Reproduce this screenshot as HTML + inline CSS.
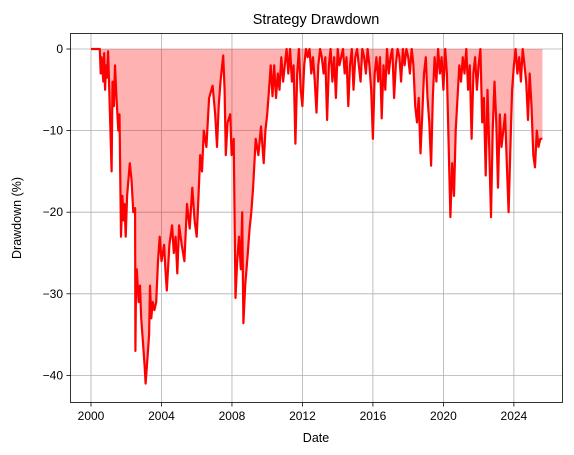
<!DOCTYPE html>
<html><head><meta charset="utf-8">
<style>
body{margin:0;background:#fff;}
svg{display:block;font-family:"Liberation Sans","DejaVu Sans",sans-serif;}
</style></head>
<body>
<svg id="chart" width="574" height="455">
<rect x="0" y="0" width="574" height="455" fill="#fff"/>
<g id="grid"></g>
<g id="series"></g>
<rect x="70.5" y="33.5" width="492" height="369" fill="none" stroke="#000" stroke-width="0.8"/>
<g id="axes"></g>
<text x="316" y="24" text-anchor="middle" font-size="14.5">Strategy Drawdown</text>
<text x="316" y="442" text-anchor="middle" font-size="12.5">Date</text>
<text x="21" y="218" text-anchor="middle" font-size="12.5" transform="rotate(-90 21 218)">Drawdown (%)</text>
</svg>
<script>
const dates=[
2000.0,2000.5,2000.55,2000.6,2000.7,2000.75,2000.8,2000.85,2000.9,2000.97,
2001.05,2001.17,2001.22,2001.3,2001.36,2001.45,2001.55,2001.62,2001.7,2001.78,
2001.85,2001.9,2001.97,2002.05,2002.2,2002.3,2002.4,2002.5,2002.52,2002.56,
2002.6,2002.7,2002.78,2002.85,2002.95,2003.05,2003.1,2003.2,2003.3,2003.35,
2003.42,2003.5,2003.6,2003.7,2003.8,2003.9,2004.0,2004.15,2004.22,2004.3,
2004.45,2004.6,2004.7,2004.8,2004.9,2005.0,2005.15,2005.3,2005.45,2005.6,
2005.75,2005.88,2006.0,2006.1,2006.2,2006.3,2006.4,2006.55,2006.7,2006.9,
2007.05,2007.15,2007.25,2007.35,2007.5,2007.58,2007.65,2007.75,2007.9,2007.98,
2008.1,2008.2,2008.3,2008.4,2008.5,2008.58,2008.65,2008.75,2008.9,2009.0,
2009.1,2009.2,2009.35,2009.5,2009.65,2009.8,2009.9,2010.0,2010.1,2010.2,
2010.3,2010.4,2010.5,2010.6,2010.7,2010.8,2010.9,2011.0,2011.1,2011.2,
2011.3,2011.4,2011.5,2011.6,2011.7,2011.8,2011.9,2012.0,2012.1,2012.2,
2012.3,2012.4,2012.5,2012.6,2012.7,2012.8,2012.9,2013.0,2013.1,2013.2,
2013.3,2013.4,2013.5,2013.6,2013.7,2013.8,2013.9,2014.0,2014.1,2014.2,
2014.3,2014.4,2014.5,2014.6,2014.7,2014.8,2014.9,2015.0,2015.1,2015.2,
2015.3,2015.4,2015.5,2015.6,2015.7,2015.8,2015.9,2016.0,2016.1,2016.2,
2016.3,2016.4,2016.5,2016.6,2016.7,2016.8,2016.9,2017.0,2017.1,2017.2,
2017.3,2017.4,2017.5,2017.6,2017.7,2017.8,2017.9,2018.0,2018.1,2018.2,
2018.3,2018.4,2018.5,2018.6,2018.7,2018.8,2018.9,2019.0,2019.1,2019.2,
2019.3,2019.4,2019.5,2019.6,2019.7,2019.8,2019.9,2020.0,2020.1,2020.2,
2020.3,2020.4,2020.5,2020.6,2020.7,2020.8,2020.9,2021.0,2021.1,2021.2,
2021.3,2021.4,2021.5,2021.6,2021.7,2021.8,2021.9,2022.0,2022.1,2022.2,
2022.3,2022.4,2022.5,2022.6,2022.7,2022.8,2022.9,2023.0,2023.1,2023.2,
2023.3,2023.4,2023.5,2023.6,2023.7,2023.8,2023.9,2024.0,2024.1,2024.2,
2024.3,2024.4,2024.5,2024.6,2024.7,2024.8,2024.9,2025.0,2025.1,2025.2,
2025.3,2025.4,2025.5,2025.62];
const drawdown=[
0,0,-3,-1,-4,-0.5,-5,-2,-3.5,-0.3,
-6,-15,-4,-7,-2,-6,-10,-8,-23,-18,
-21,-19,-23,-18,-14,-16,-20,-19.5,-37,-28,
-27,-31,-29,-33,-36,-39,-41,-38,-35,-29,
-33,-31,-32,-31,-26,-23,-26,-24,-27,-29.6,
-24,-21.6,-25,-23,-27.5,-21.6,-24,-26,-19,-22,
-17,-21,-23,-18,-13,-15,-10,-12,-6,-4.5,
-8,-12,-7,-4,-0.8,-5,-13,-9,-8,-13,
-11,-30.5,-26,-23,-27,-20,-33.6,-29,-25,-22,
-20,-17,-11,-13,-9.5,-14,-10,-8,-5,-2,
-5.8,-2,-6,-3,-5,-1,-4,-2,0,-3,
0,-4,-2,-11.6,-3,0,-5,-7,-2,0,
-1,0,-3,-1,-4,-7.8,-2,0,-1,-3,
-1,-8.7,-2,0,-4,-1,-6,0,-2,-1,
0,-3,-1,-7,-2,0,-5,-1,0,-2,
-4,0,-1,-3,0,-2,-5,-11,-3,-1,
-4,-1,-8.5,-2,-5,0,-3,-1,0,-6,
-2,0,-1,-4,0,-2,0,-1,-3,0,
-2,-7,-9,-6,-12.8,-8,-3,-1,-6,-9,
-14.3,-6,-1,-4,0,-3,-1,-5,0,-3,
-12,-20.6,-14,-18,-10,-6,-2,-4,-1,-3,
0,-5,-2,-11,-3,-1,-5,-2,0,-9,
-6,-15.5,-5,-12,-20.6,-10,-4,-9,-17,-8,
-12,-10,-8,-14,-20,-12,-5,-2,0,-3,
-1,-4,0,-2,-4,-8.7,-3,-7,-13,-14.5,
-10,-12,-11,-11];
const yTicks=[0,-10,-20,-30,-40];
const xTicks=[2000,2004,2008,2012,2016,2020,2024];
const NS='http://www.w3.org/2000/svg';
function xs(d){return 91+(d-2000)*17.62;}
function ys(v){return 49-v*8.16;}
const grid=document.getElementById('grid'),axes=document.getElementById('axes'),ser=document.getElementById('series');
function mk(tag,attrs,parent){const e=document.createElementNS(NS,tag);for(const k in attrs)e.setAttribute(k,attrs[k]);parent.appendChild(e);return e;}
yTicks.forEach(t=>{
  const y=ys(t);
  const g=mk('line',{x1:70,x2:562,y1:y,y2:y,stroke:'#b0b0b0','stroke-width':0.8},grid);
  
  
  const tk=mk('line',{x1:66.5,x2:70.5,y1:y,y2:y,stroke:'#000','stroke-width':0.8},axes);
  
  
  const tx=mk('text',{x:63,y:y+4,'text-anchor':'end','font-size':12},axes);
  tx.textContent=t===0?'0':'\u2212'+Math.abs(t);
  
  
});
xTicks.forEach(t=>{
  const x=xs(t);
  const g=mk('line',{x1:x,x2:x,y1:33,y2:402,stroke:'#b0b0b0','stroke-width':0.8},grid);
  
  
  const tk=mk('line',{x1:x,x2:x,y1:402.5,y2:406.5,stroke:'#000','stroke-width':0.8},axes);
  
  
  const tx=mk('text',{x:x,y:420,'text-anchor':'middle','font-size':12},axes);
  tx.textContent=String(t);
  
  
});
const n=Math.min(dates.length,drawdown.length);
let pts=[];
for(let i=0;i<n;i++)pts.push(xs(dates[i]).toFixed(1)+','+ys(drawdown[i]).toFixed(1));
const area=mk('polygon',{points:xs(dates[0]).toFixed(1)+','+ys(0)+' '+pts.join(' ')+' '+xs(dates[n-1]).toFixed(1)+','+ys(0),fill:'#ff0000','fill-opacity':0.3},ser);


const line=mk('polyline',{points:pts.join(' '),fill:'none',stroke:'#ff0000','stroke-width':2.2,'stroke-linejoin':'round'},ser);


</script>
</body></html>
